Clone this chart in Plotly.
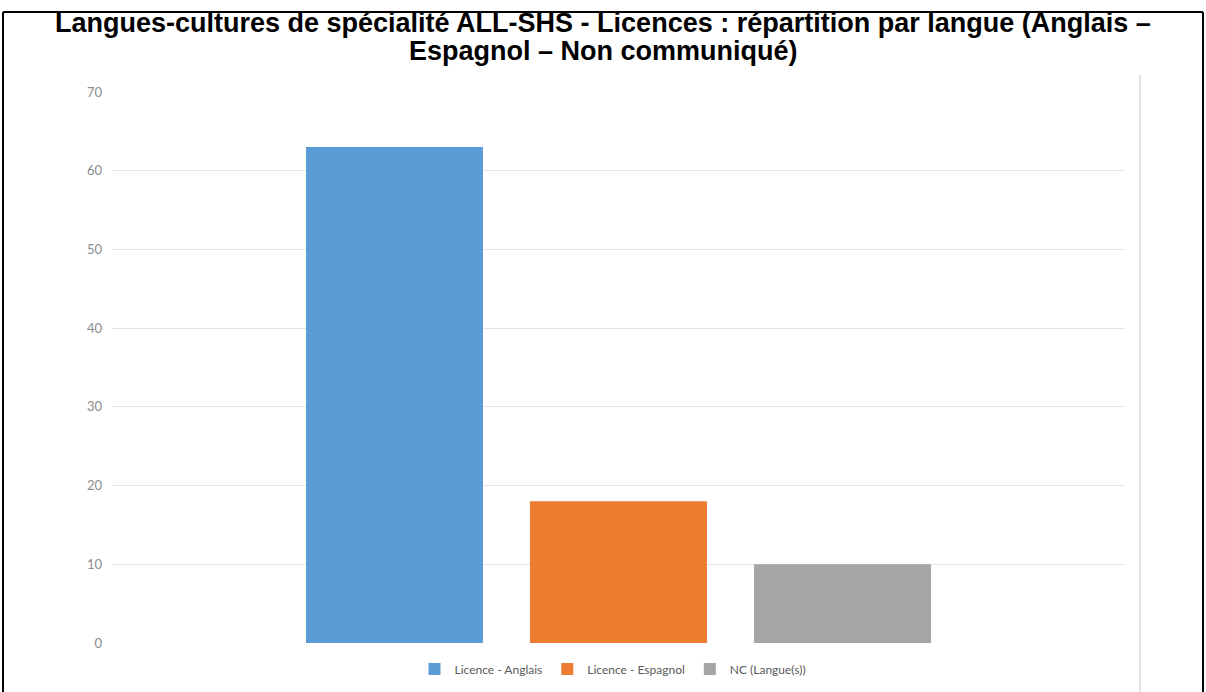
import plotly.graph_objects as go

categories = ["Licences"]
series_names = ["Licence - Anglais", "Licence - Espagnol", "NC (Langue(s))"]
series_values = [[63], [18], [10]]
series_colors = ["#5B9BD5", "#ED7D31", "#A5A5A5"]
y_ticks = [0, 10, 20, 30, 40, 50, 60, 70]

title_line1 = "Langues-cultures de spécialité ALL-SHS - Licences : répartition par langue (Anglais –"
title_line2 = "Espagnol – Non communiqué)"

fig = go.Figure()
for name, vals, col in zip(series_names, series_values, series_colors):
    fig.add_trace(go.Bar(x=categories, y=vals, name=name, marker_color=col,
                         marker_line_width=0))

W, H = 1206, 692
L, R, T, B = 112, 81, 92, 49
pw, ph = W - L - R, H - T - B

def px(x):
    return (x - L) / pw

def py(y):
    return (H - B - y) / ph

fig.update_layout(
    width=W, height=H,
    margin=dict(l=L, r=R, t=T, b=B, autoexpand=False),
    paper_bgcolor="white", plot_bgcolor="white",
    barmode="group", bargap=0.3366, bargroupgap=0.21,
    showlegend=True,
    legend=dict(orientation="h", x=px(613), xanchor="center", y=py(669), yanchor="middle",
                font=dict(family="Lato, Open Sans, sans-serif", size=12, color="#595959"),
                itemwidth=30, traceorder="normal"),
    xaxis=dict(showticklabels=False, showgrid=False, zeroline=False, showline=False, ticks=""),
    yaxis=dict(range=[0, 70], tickvals=y_ticks, showgrid=True, gridcolor="#e3e3e3", gridwidth=1,
               zeroline=False, showline=False, ticks="", ticklabelstandoff=9,
               tickfont=dict(family="Lato, Open Sans, sans-serif", size=13, color="#8c8c8c")),
    font=dict(family="Liberation Sans, Arial, sans-serif"),
)

fig.add_annotation(text="<b>" + title_line1 + "</b>", xref="paper", yref="paper",
                   x=px(603), y=py(23), xanchor="center", yanchor="middle", showarrow=False,
                   font=dict(family="Liberation Sans, Arial, sans-serif", size=27, color="black"))
fig.add_annotation(text="<b>" + title_line2 + "</b>", xref="paper", yref="paper",
                   x=px(603), y=py(51), xanchor="center", yanchor="middle", showarrow=False,
                   font=dict(family="Liberation Sans, Arial, sans-serif", size=27, color="black"))

# outer black frame (left, top, right)
fig.add_shape(type="line", xref="paper", yref="paper", x0=px(3), x1=px(3), y0=py(12), y1=py(700),
              line=dict(color="black", width=2))
fig.add_shape(type="line", xref="paper", yref="paper", x0=px(3), x1=px(1203), y0=py(12), y1=py(12),
              line=dict(color="black", width=2))
fig.add_shape(type="line", xref="paper", yref="paper", x0=px(1203), x1=px(1203), y0=py(12), y1=py(700),
              line=dict(color="black", width=2))
# light vertical separator line on right
fig.add_shape(type="line", xref="paper", yref="paper", x0=px(1140), x1=px(1140), y0=py(75), y1=py(700),
              line=dict(color="#d9d9d9", width=1.5))

fig.write_html("out.html", config={"displayModeBar": False},
               post_script="document.body.style.margin='0px';")
